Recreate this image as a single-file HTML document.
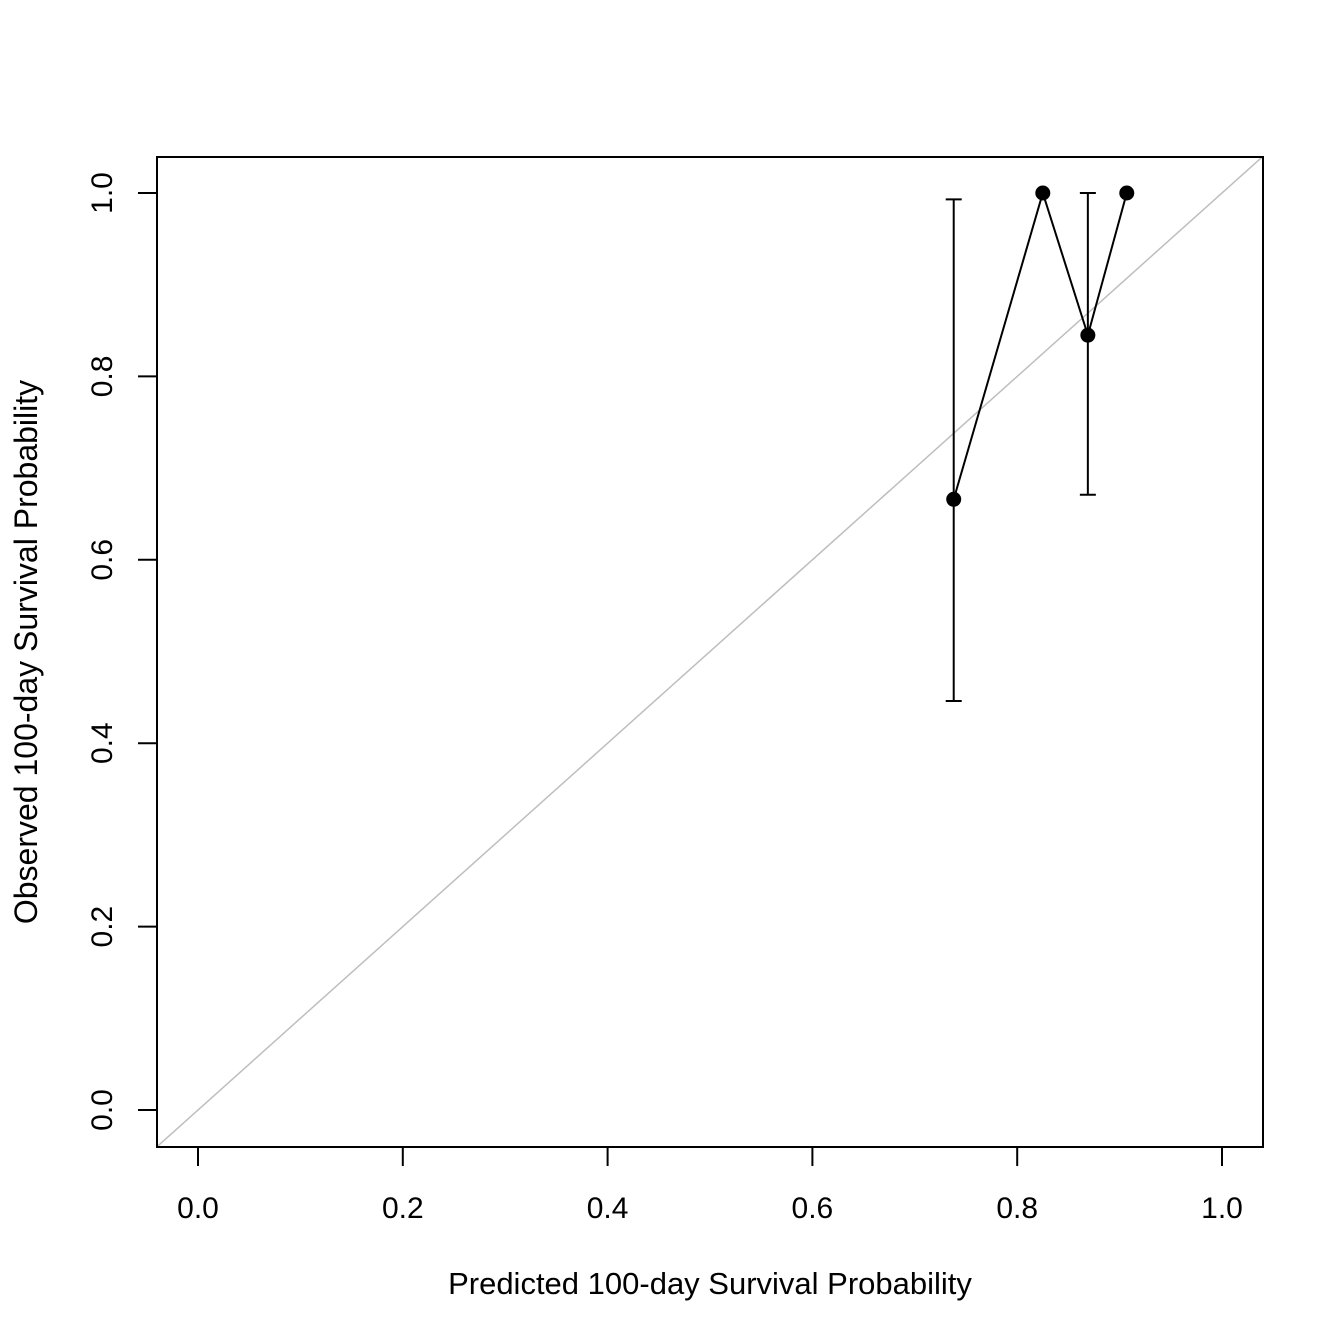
<!DOCTYPE html>
<html><head><meta charset="utf-8"><style>
html,body{margin:0;padding:0;background:#fff;}
svg{display:block;font-family:"Liberation Sans",Arial,sans-serif;}
</style></head><body>
<svg id="chart" width="1344" height="1344" xmlns="http://www.w3.org/2000/svg">
<rect width="1344" height="1344" fill="#fff"/>
<g id="plot"></g>
</svg>
<script>
const predicted = [0.738, 0.825, 0.869, 0.907];
const observed = [0.666, 1.0, 0.845, 1.0];
const lower = [0.446, 1.0, 0.671, 1.0];
const upper = [0.993, 1.0, 1.0, 1.0];
const xTicks = [0, 0.2, 0.4, 0.6, 0.8, 1.0];
const xTickLabels = ["0.0","0.2","0.4","0.6","0.8","1.0"];
const yTicks = [0, 0.2, 0.4, 0.6, 0.8, 1.0];
const yTickLabels = ["0.0","0.2","0.4","0.6","0.8","1.0"];

const NS = "http://www.w3.org/2000/svg";
const g = document.getElementById('plot');
const X = v => 198 + v * 1024;
const Y = v => 1110 - v * 917;
function el(tag, attrs, parent) {
  const e = document.createElementNS(NS, tag);
  for (const k in attrs) e.setAttribute(k, attrs[k]);
  (parent || g).appendChild(e);
  return e;
}
let d = el('line', {x1: X(-0.04), y1: Y(-0.04), x2: X(1.04), y2: Y(1.04), stroke: '#bebebe', 'stroke-width': 1.5});


let f = el('rect', {x: 157, y: 157, width: 1106, height: 990, fill: 'none', stroke: '#000', 'stroke-width': 2});


let xa = el('line', {x1: X(0), y1: 1147, x2: X(1), y2: 1147, stroke: '#000', 'stroke-width': 2});


xTicks.forEach((t, i) => {
  let tk = el('line', {x1: X(t), y1: 1147, x2: X(t), y2: 1166, stroke: '#000', 'stroke-width': 2});
  
  
  let tx = el('text', {x: X(t), y: 1218, 'font-size': 30, 'text-anchor': 'middle'});
  tx.textContent = xTickLabels[i];
  
  
});
let ya = el('line', {x1: 157, y1: Y(0), x2: 157, y2: Y(1), stroke: '#000', 'stroke-width': 2});


yTicks.forEach((t, i) => {
  let tk = el('line', {x1: 138, y1: Y(t), x2: 157, y2: Y(t), stroke: '#000', 'stroke-width': 2});
  
  
  let tx = el('text', {x: 0, y: 0, 'font-size': 30, 'text-anchor': 'middle', transform: `translate(112,${Y(t)}) rotate(-90)`});
  tx.textContent = yTickLabels[i];
  
  
});
let xt = el('text', {x: 710, y: 1294, 'font-size': 31, 'text-anchor': 'middle'});
xt.textContent = 'Predicted 100-day Survival Probability';


let yt = el('text', {x: 0, y: 0, 'font-size': 32, 'text-anchor': 'middle', transform: 'translate(37,652) rotate(-90)'});
yt.textContent = 'Observed 100-day Survival Probability';


predicted.forEach((p, i) => {
  if (upper[i] - lower[i] <= 0) return;
  const eg = el('g', {stroke: '#000', 'stroke-width': 2});
  
  
  el('line', {x1: X(p), y1: Y(lower[i]), x2: X(p), y2: Y(upper[i])}, eg);
  el('line', {x1: X(p) - 8, y1: Y(lower[i]), x2: X(p) + 8, y2: Y(lower[i])}, eg);
  el('line', {x1: X(p) - 8, y1: Y(upper[i]), x2: X(p) + 8, y2: Y(upper[i])}, eg);
});
let ln = el('polyline', {points: predicted.map((p, i) => X(p) + ',' + Y(observed[i])).join(' '), fill: 'none', stroke: '#000', 'stroke-width': 2});


predicted.forEach((p, i) => {
  let c = el('circle', {cx: X(p), cy: Y(observed[i]), r: 7.5, fill: '#000'});
  
  
});
</script>
</body></html>
